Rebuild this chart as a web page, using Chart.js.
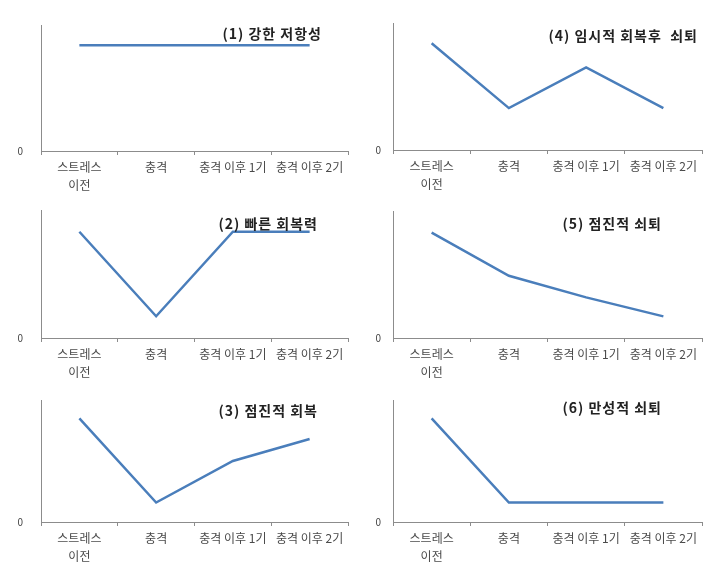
<!DOCTYPE html>
<html>
<head>
<meta charset="utf-8">
<script src="https://cdn.jsdelivr.net/npm/chart.js@4"></script>
<style>
  body { margin: 0; background: #fff; }
  #wrap { position: relative; width: 721px; height: 577px; overflow: hidden; }
  canvas { position: absolute; }
</style>
</head>
<body>
<div id="wrap"></div>
<script>
// categories shared by all six panels
const categories = [['스트레스', '이전'], '충격', '충격 이후 1기', '충격 이후 2기'];

// panel titles
const titles = ['(1) 강한 저항성', '(2) 빠른 회복력', '(3) 점진적 회복',
                '(4) 임시적 회복후  쇠퇴', '(5) 점진적 쇠퇴', '(6) 만성적 쇠퇴'];

// series values (relative scale 0..10)
const strongResistance   = [8.4, 8.4, 8.4, 8.4];
const fastRecovery       = [8.3, 1.7, 8.3, 8.3];
const gradualRecovery    = [8.5, 1.6, 5.0, 6.8];
const temporaryRecovery  = [8.4, 3.3, 6.5, 3.3];
const gradualDecline     = [8.3, 4.9, 3.2, 1.7];
const chronicDecline     = [8.5, 1.6, 1.6, 1.6];

const series = [strongResistance, fastRecovery, gradualRecovery,
                temporaryRecovery, gradualDecline, chronicDecline];

// y axis range and the only labelled tick
const yMin = 0;
const yMax = 10;
const yTickLabels = ['0'];

// where each panel sits on the page
const panels = [
  { left: 0,   top: 0,   w: 360, h: 195, aLeft: 41, aRight: 348, aTop: 25, aBottom: 151, tRight: 322, tY: 34, yGap: 16 },
  { left: 0,   top: 195, w: 360, h: 190, aLeft: 41, aRight: 348, aTop: 15, aBottom: 143, tRight: 318, tY: 29, yGap: 16 },
  { left: 0,   top: 385, w: 360, h: 192, aLeft: 41, aRight: 348, aTop: 15, aBottom: 137, tRight: 318, tY: 26, yGap: 16 },
  { left: 360, top: 0,   w: 361, h: 195, aLeft: 33, aRight: 342, aTop: 23, aBottom: 150, tRight: 338, tY: 36, yGap: 10 },
  { left: 360, top: 195, w: 361, h: 190, aLeft: 33, aRight: 342, aTop: 16, aBottom: 143, tRight: 302, tY: 29, yGap: 10 },
  { left: 360, top: 385, w: 361, h: 192, aLeft: 33, aRight: 342, aTop: 15, aBottom: 137, tRight: 302, tY: 23, yGap: 10 }
];

const FONT = '"Noto Sans CJK KR", "Noto Sans", sans-serif';
const LINE_COLOR = '#4a7ebb';
const AXIS_COLOR = '#8c8c8c';

// draws the panel title inside the plot area, right aligned
const panelTitle = {
  id: 'panelTitle',
  afterDraw(chart, args, opts) {
    const ctx = chart.ctx;
    ctx.save();
    ctx.font = 'bold 14px ' + FONT;
    ctx.letterSpacing = '1px';
    ctx.fillStyle = '#222';
    ctx.textAlign = 'right';
    ctx.textBaseline = 'middle';
    ctx.fillText(opts.text, opts.x, opts.y);
    ctx.restore();
  }
};

const wrap = document.getElementById('wrap');

panels.forEach((p, i) => {
  const canvas = document.createElement('canvas');
  canvas.width = p.w;
  canvas.height = p.h;
  canvas.style.left = p.left + 'px';
  canvas.style.top = p.top + 'px';
  canvas.style.width = p.w + 'px';
  canvas.style.height = p.h + 'px';
  wrap.appendChild(canvas);

  new Chart(canvas, {
    type: 'line',
    data: {
      labels: categories,
      datasets: [{
        data: series[i],
        borderColor: LINE_COLOR,
        borderWidth: 2.5,
        pointRadius: 0,
        tension: 0,
        fill: false
      }]
    },
    plugins: [panelTitle],
    options: {
      responsive: false,
      animation: false,
      devicePixelRatio: 1,
      layout: { padding: { top: p.aTop, right: p.w - p.aRight, left: 0, bottom: 0 } },
      plugins: {
        legend: { display: false },
        tooltip: { enabled: false },
        panelTitle: { text: titles[i], x: p.tRight, y: p.tY }
      },
      scales: {
        x: {
          offset: true,
          grid: { display: true, offset: true, drawOnChartArea: false, drawTicks: true, tickLength: 4, color: AXIS_COLOR },
          border: { display: true, color: AXIS_COLOR, width: 1 },
          ticks: {
            autoSkip: false, maxRotation: 0, minRotation: 0, padding: 3,
            color: '#4a4a4a', font: { family: FONT, size: 12, lineHeight: 1.5 }
          },
          afterFit(scale) { scale.height = p.h - p.aBottom; }
        },
        y: {
          min: yMin,
          max: yMax,
          // invisible tick marks keep the "0" away from the axis without
          // adding to the top padding (tick padding would)
          grid: { display: true, drawOnChartArea: false, drawTicks: true, tickLength: p.yGap, color: 'rgba(0,0,0,0)' },
          border: { display: true, color: AXIS_COLOR, width: 1 },
          ticks: {
            stepSize: yMax - yMin,
            padding: 2,
            color: '#444',
            font: { family: FONT, size: 10 },
            callback: (v) => (v === yMin ? yTickLabels[0] : '')
          },
          afterFit(scale) { scale.width = p.aLeft; }
        }
      }
    }
  });
});
</script>
</body>
</html>
